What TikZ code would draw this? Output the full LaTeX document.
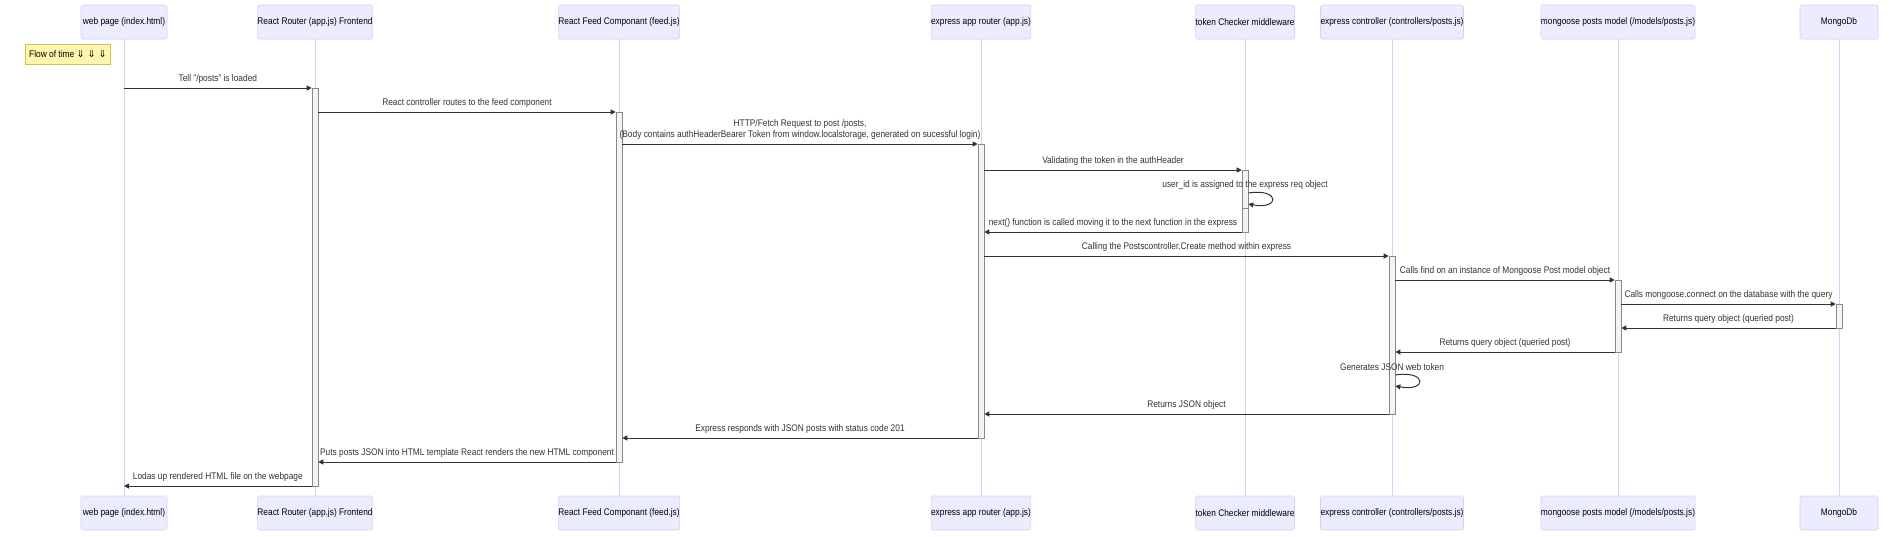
\documentclass[tikz,border=0pt]{standalone}
\usepackage{fontspec}
\setmainfont{Liberation Sans}[FakeStretch=0.87]
\newfontfamily\arrowfont{DejaVu Sans}
\usepackage{xcolor}
\usetikzlibrary{arrows.meta, positioning}

\definecolor{actfill}{HTML}{ECECFF}
\definecolor{actline}{HTML}{DACEF3}
\definecolor{notefill}{HTML}{FFF5AD}
\definecolor{noteline}{HTML}{C8C455}
\definecolor{msgcol}{HTML}{333333}
\definecolor{barfill}{HTML}{F4F4F4}
\definecolor{barline}{HTML}{888888}

\tikzset{
	actor/.style={draw=actline, fill=actfill, rounded corners=1.5pt, line width=0.6pt,
		minimum height=34pt, inner sep=0pt, font=\fontsize{9.6}{11}\selectfont},
	life/.style={draw=actline, line width=0.8pt},
	bar/.style={draw=barline, fill=barfill, line width=0.6pt, minimum width=6pt,
		inner sep=0pt, anchor=north},
	msg/.style={-{Triangle[length=5pt,width=5pt]}, draw=msgcol, line width=1pt},
	lbl/.style={font=\fontsize{9.6}{11}\selectfont, text=msgcol, inner sep=0pt, align=center},
	note/.style={draw=noteline, fill=notefill, line width=0.6pt, minimum width=85pt,
		minimum height=20pt, inner sep=0pt, font=\fontsize{9.6}{11}\selectfont}
}

\begin{document}
\begin{tikzpicture}[x=1pt, y=-1pt]
	\useasboundingbox (0,0) rectangle (1904,536);
	\fill[white] (0,0) rectangle (1904,536);

	% participants, top and bottom
	\foreach \n/\x/\w/\t in {web/124/86/{web page (index.html)},
			router/315/114/{React Router (app.js) Frontend},
			feed/619/118/{React Feed Componant (feed.js)},
			express/981/99/{express app router (app.js)},
			token/1245/98/{token Checker middleware},
			ctrl/1392/139/{express controller (controllers/posts.js)},
			model/1618/148/{mongoose posts model (/models/posts.js)},
			mongo/1839/78/{MongoDb}}{
		\node[actor, minimum width=\w pt] (\n-top) at (\x,22) {\t};
		\node[actor, minimum width=\w pt] (\n-bot) at (\x,513) {\t};
		\draw[life] (\n-top.south) -- (\n-bot.north);
	}

	\node[note] (flow) at (68,54) {Flow of time {\arrowfont ⇓ ⇓ ⇓}};

	% activations
	\node[bar, minimum height=398pt] (rA) at (router-top.south |- 0,88) {};
	\node[bar, minimum height=350pt] (fA) at (feed-top.south |- 0,112) {};
	\node[bar, minimum height=294pt] (eA) at (express-top.south |- 0,144) {};
	\node[bar, minimum height=62pt] (tA) at (token-top.south |- 0,170) {};
	\node[bar, minimum height=38pt] (tB) at (token-top.south |- 0,170) {};
	\node[bar, minimum height=158pt] (cA) at (ctrl-top.south |- 0,256) {};
	\node[bar, minimum height=72pt] (mA) at (model-top.south |- 0,280) {};
	\node[bar, minimum height=24pt] (dA) at (mongo-top.south |- 0,304) {};

	% messages
	\draw[msg] (web-top.south |- 0,88) -- (rA.west |- 0,88)
		node[lbl, midway, above=4.5pt] {Tell "/posts" is loaded};
	\draw[msg] (rA.east |- 0,112) -- (fA.west |- 0,112)
		node[lbl, midway, above=4.5pt] {React controller routes to the feed component};
	\draw[msg] (fA.east |- 0,144) -- (eA.west |- 0,144)
		node[lbl, midway, above=4.5pt] {HTTP/Fetch Request to post /posts,\\(Body contains authHeaderBearer Token from window.localstorage, generated on sucessful login)};
	\draw[msg] (eA.east |- 0,170) -- (tA.west |- 0,170)
		node[lbl, midway, above=4.5pt] {Validating the token in the authHeader};
	\node[lbl] (selfT) at (token-top.south |- 0,185) {user\_id is assigned to the express req object};
	\draw[msg] (tB.east |- 0,193) .. controls +(32,-5) and +(32,6) .. (tB.east |- 0,204);
	\draw[msg] (tA.west |- 0,232) -- (eA.east |- 0,232)
		node[lbl, midway, above=4.5pt] {next() function is called moving it to the next function in the express};
	\draw[msg] (eA.east |- 0,256) -- (cA.west |- 0,256)
		node[lbl, midway, above=4.5pt] {Calling the Postscontroller.Create method within express};
	\draw[msg] (cA.east |- 0,280) -- (mA.west |- 0,280)
		node[lbl, midway, above=4.5pt] {Calls find on an instance of Mongoose Post model object};
	\draw[msg] (mA.east |- 0,304) -- (dA.west |- 0,304)
		node[lbl, midway, above=4.5pt] {Calls mongoose.connect on the database with the query};
	\draw[msg] (dA.west |- 0,328) -- (mA.east |- 0,328)
		node[lbl, midway, above=4.5pt] {Returns query object (queried post)};
	\draw[msg] (mA.west |- 0,352) -- (cA.east |- 0,352)
		node[lbl, midway, above=4.5pt] {Returns query object (queried post)};
	\node[lbl] (selfC) at (ctrl-top.south |- 0,367) {Generates JSON web token};
	\draw[msg] (cA.east |- 0,375) .. controls +(32,-5) and +(32,6) .. (cA.east |- 0,386);
	\draw[msg] (cA.west |- 0,414) -- (eA.east |- 0,414)
		node[lbl, midway, above=4.5pt] {Returns JSON object};
	\draw[msg] (eA.west |- 0,438) -- (fA.east |- 0,438)
		node[lbl, midway, above=4.5pt] {Express responds with JSON posts with status code 201};
	\draw[msg] (fA.west |- 0,462) -- (rA.east |- 0,462)
		node[lbl, midway, above=4.5pt] {Puts posts JSON into HTML template React renders the new HTML component};
	\draw[msg] (rA.west |- 0,486) -- (web-top.south |- 0,486)
		node[lbl, midway, above=4.5pt] {Lodas up rendered HTML file on the webpage};
\end{tikzpicture}
\end{document}
